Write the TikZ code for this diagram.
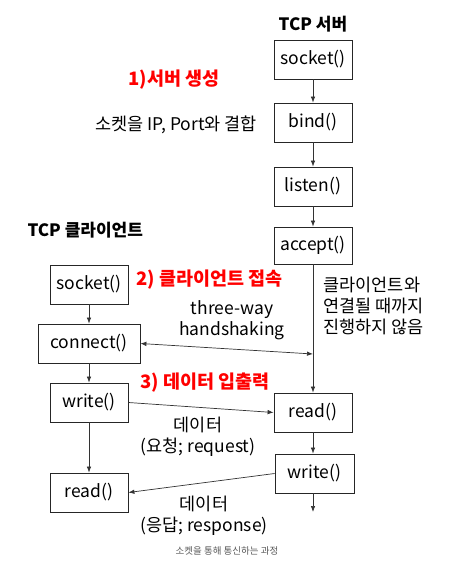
\documentclass[tikz,border=0pt]{standalone}
\usepackage{fontspec}
\setmainfont{Noto Sans CJK KR}
\usetikzlibrary{arrows.meta}
\begin{document}
\begin{tikzpicture}[x=1pt,y=-1pt,
  box/.style={draw=black!85, line width=0.8pt, rectangle, minimum width=78pt, minimum height=39pt, inner sep=0pt, font=\fontsize{17.5}{20}\selectfont},
  conn/.style={draw=black!80, line width=0.7pt, -{Latex[length=6pt,width=4.5pt]}},
  title/.style={font=\fontsize{17}{20}\selectfont\bfseries, text=black},
  step label/.style={font=\fontsize{18.5}{21}\selectfont\bfseries, text=red},
  note/.style={font=\fontsize{17.5}{21}\selectfont, align=center}]
\useasboundingbox[fill=white] (0,0) rectangle (457,563);
% server
\node[title] (st) at (313,24) {TCP 서버};
\node[box] (ssock) at (313,59.5) {socket()};
\node[box] (sbind) at (313,122.5) {bind()};
\node[box] (slisten) at (313,186.5) {listen()};
\node[box, minimum height=37pt] (saccept) at (313,245.5) {accept()};
\node[box] (sread) at (313,412.5) {read()};
\node[box, minimum width=79pt] (swrite) at (314.5,473.5) {write()};
\coordinate (send) at (313,512);
\coordinate (hs) at (313,354);
% client
\node[title, anchor=west] (ct) at (24,230) {TCP 클라이언트};
\node[box] (csock) at (89,284.5) {socket()};
\node[box, minimum width=102pt] (cconn) at (89,343.5) {connect()};
\node[box] (cwrite) at (89,402.5) {write()};
\node[box] (cread) at (89,492.5) {read()};
% labels
\node[step label] (l1) at (174,80) {1)서버 생성};
\node[note] (l1b) at (176,125) {소켓을 IP, Port와 결합};
\node[step label, anchor=west] (l2) at (133,280) {2) 클라이언트 접속};
\node[note, anchor=west, align=left] (l2b) at (320,306) {클라이언트와\\연결될 때까지\\진행하지 않음};
\node[note] (hsl) at (232,320.5) {three-way\\handshaking};
\node[step label, anchor=west] (l3) at (137,383) {3) 데이터 입출력};
\node[note] (req) at (198,437) {데이터\\(요청; request)};
\node[note] (resp) at (204,515.5) {데이터\\(응답; response)};
\node[font=\fontsize{9.5}{11}\selectfont, text=black!65] (cap) at (227,551) {소켓을 통해 통신하는 과정};
% connectors
\draw[conn] (ssock) -- (sbind);
\draw[conn] (sbind) -- (slisten);
\draw[conn] (slisten) -- (saccept);
\draw[conn] (saccept) -- (sread);
\draw[conn] (sread.south) -- (sread.south |- swrite.north);
\draw[conn] (swrite.south -| send) -- (send);
\draw[conn] (csock) -- (csock |- cconn.north);
\draw[conn] (cconn.south -| cwrite) -- (cwrite);
\draw[conn] (cwrite) -- (cread);
\draw[conn, {Latex[length=6pt,width=4.5pt]}-{Latex[length=6pt,width=4.5pt]}] (cconn.east) -- (hs);
\draw[conn] (cwrite.east) -- (sread.west);
\draw[conn] (swrite.west) -- (cread.east);
\end{tikzpicture}
\end{document}
